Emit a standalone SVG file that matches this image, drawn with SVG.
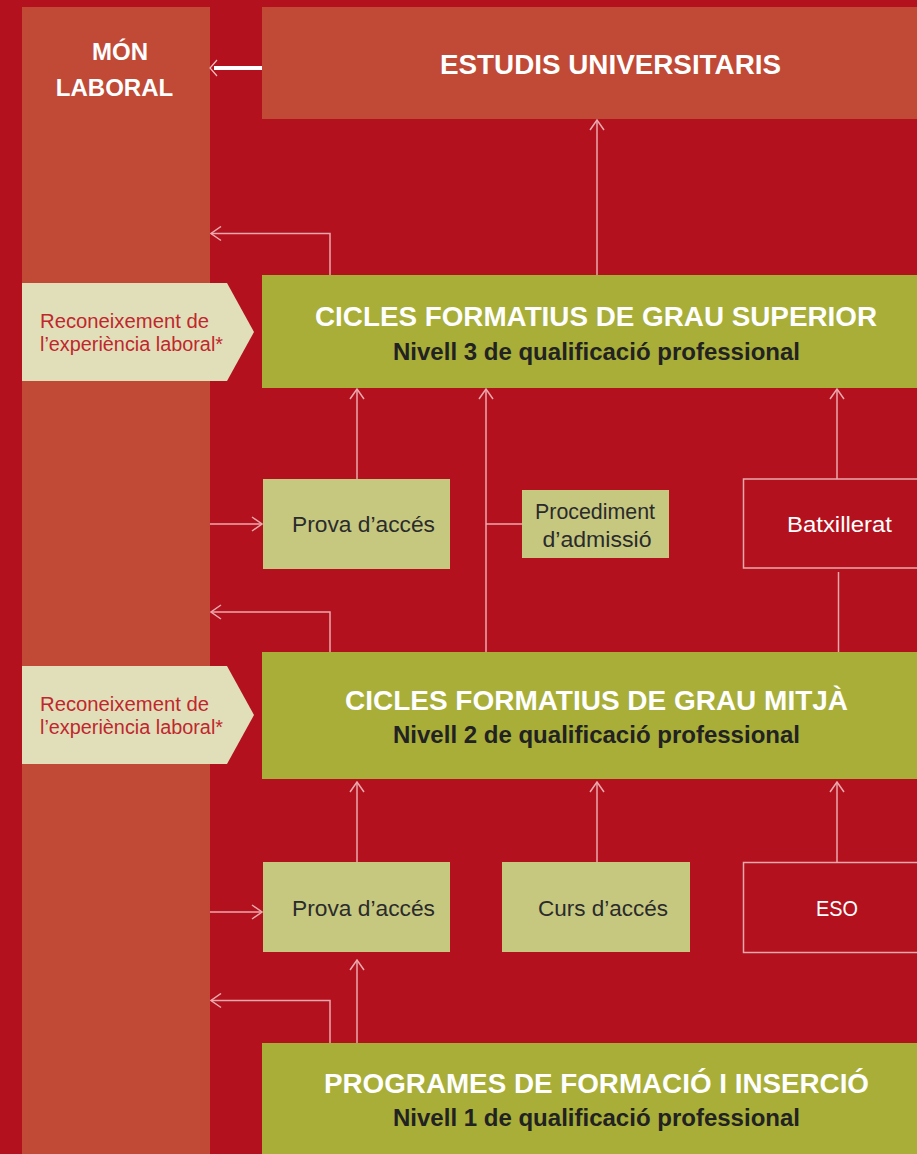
<svg xmlns="http://www.w3.org/2000/svg" width="917" height="1154" viewBox="0 0 917 1154">
<defs>
<marker id="ah" viewBox="0 0 12 16" refX="11" refY="8" markerWidth="12" markerHeight="16" markerUnits="userSpaceOnUse" orient="auto">
<path d="M1,1 L11,8 L1,15" fill="none" stroke="#eaa9ad" stroke-width="1.5"/>
</marker>
</defs>
<style>
.big{fill:#c04a36}
.lvl{fill:#a8ae38}
.acc{fill:#c6c880}
.out{fill:none;stroke:#eaa9ad;stroke-width:1.5}
.rec{fill:#e0dfba}
.t1{font-family:"Liberation Sans",Arial,sans-serif;font-weight:bold;fill:#ffffff;text-anchor:middle}
.t2{font-family:"Liberation Sans",Arial,sans-serif;font-weight:bold;fill:#222222;font-size:23px;text-anchor:middle}
.t3{font-family:"Liberation Sans",Arial,sans-serif;fill:#2b2b2b;font-size:22.5px;text-anchor:middle}
.t4{font-family:"Liberation Sans",Arial,sans-serif;fill:#ffffff;font-size:22.5px;text-anchor:middle}
.tr{font-family:"Liberation Sans",Arial,sans-serif;fill:#c0272d;font-size:19.5px}
.c{fill:none;stroke:#eaa9ad;stroke-width:1.5}
</style>
<rect x="0" y="0" width="917" height="1154" fill="#b3111d"/>

<g id="mon-laboral">
<rect class="big" x="22" y="7" width="188" height="1147"/>
<text class="t1" x="120" y="60" font-size="24">MÓN</text>
<text class="t1" x="114.5" y="96" font-size="24">LABORAL</text>
</g>

<g id="estudis">
<rect class="big" x="262" y="7" width="655" height="112"/>
<text class="t1" x="610.5" y="74" font-size="27" textLength="341" lengthAdjust="spacingAndGlyphs">ESTUDIS UNIVERSITARIS</text>
</g>

<g id="cfgs">
<rect class="lvl" x="262" y="275" width="655" height="113"/>
<text class="t1" x="596" y="326" font-size="27" textLength="562" lengthAdjust="spacingAndGlyphs">CICLES FORMATIUS DE GRAU SUPERIOR</text>
<text class="t2" x="596.5" y="360" textLength="407" lengthAdjust="spacingAndGlyphs">Nivell 3 de qualificació professional</text>
</g>

<g id="rec1">
<polygon class="rec" points="22,283 227,283 254,332 227,381 22,381"/>
<text class="tr" x="40" y="328" textLength="169" lengthAdjust="spacingAndGlyphs">Reconeixement de</text>
<text class="tr" x="40" y="351" textLength="183" lengthAdjust="spacingAndGlyphs">l’experiència laboral*</text>
</g>

<g id="prova1">
<rect class="acc" x="263" y="479" width="187" height="90"/>
<text class="t3" x="363.5" y="532" textLength="143" lengthAdjust="spacingAndGlyphs">Prova d’accés</text>
</g>

<g id="procediment">
<rect class="acc" x="522" y="490" width="147" height="68"/>
<text class="t3" x="595" y="519" textLength="120" lengthAdjust="spacingAndGlyphs">Procediment</text>
<text class="t3" x="597" y="547" textLength="109" lengthAdjust="spacingAndGlyphs">d’admissió</text>
</g>

<g id="batxillerat">
<rect class="out" x="743.5" y="479" width="180" height="89"/>
<text class="t4" x="839.5" y="532" textLength="105" lengthAdjust="spacingAndGlyphs">Batxillerat</text>
</g>

<g id="cfgm">
<rect class="lvl" x="262" y="652" width="655" height="127"/>
<text class="t1" x="596.5" y="710" font-size="27" textLength="503" lengthAdjust="spacingAndGlyphs">CICLES FORMATIUS DE GRAU MITJÀ</text>
<text class="t2" x="596.5" y="743" textLength="407" lengthAdjust="spacingAndGlyphs">Nivell 2 de qualificació professional</text>
</g>

<g id="rec2">
<polygon class="rec" points="22,666 227,666 254,715 227,764 22,764"/>
<text class="tr" x="40" y="711" textLength="169" lengthAdjust="spacingAndGlyphs">Reconeixement de</text>
<text class="tr" x="40" y="734" textLength="183" lengthAdjust="spacingAndGlyphs">l’experiència laboral*</text>
</g>

<g id="prova2">
<rect class="acc" x="263" y="862" width="187" height="90"/>
<text class="t3" x="363.5" y="916" textLength="143" lengthAdjust="spacingAndGlyphs">Prova d’accés</text>
</g>

<g id="curs">
<rect class="acc" x="502" y="862" width="188" height="90"/>
<text class="t3" x="603" y="916" textLength="130" lengthAdjust="spacingAndGlyphs">Curs d’accés</text>
</g>

<g id="eso">
<rect class="out" x="743.5" y="862.5" width="180" height="90"/>
<text class="t4" x="837" y="916" textLength="42" lengthAdjust="spacingAndGlyphs">ESO</text>
</g>

<g id="pfi">
<rect class="lvl" x="262" y="1043" width="655" height="111"/>
<text class="t1" x="596.5" y="1093" font-size="27" textLength="545" lengthAdjust="spacingAndGlyphs">PROGRAMES DE FORMACIÓ I INSERCIÓ</text>
<text class="t2" x="596.5" y="1126" textLength="407" lengthAdjust="spacingAndGlyphs">Nivell 1 de qualificació professional</text>
</g>

<g id="connectors">
<line x1="262" y1="68" x2="214" y2="68" stroke="#ffffff" stroke-width="4"/>
<path d="M217,60 L210,68 L217,76" fill="none" stroke="#f0c0c0" stroke-width="1.2"/>
<path class="c" d="M330,275 V233.5 H211" marker-end="url(#ah)"/>
<path class="c" d="M597,275 V120" marker-end="url(#ah)"/>
<path class="c" d="M357,479 V389" marker-end="url(#ah)"/>
<path class="c" d="M486,652 V389" marker-end="url(#ah)"/>
<path class="c" d="M486,524 H522"/>
<path class="c" d="M837,479 V389" marker-end="url(#ah)"/>
<path class="c" d="M838.5,652 V572"/>
<path class="c" d="M210,524 H262" marker-end="url(#ah)"/>
<path class="c" d="M330,652 V612 H211" marker-end="url(#ah)"/>
<path class="c" d="M357,862 V782" marker-end="url(#ah)"/>
<path class="c" d="M597,862 V782" marker-end="url(#ah)"/>
<path class="c" d="M837,862 V782" marker-end="url(#ah)"/>
<path class="c" d="M210,912 H262" marker-end="url(#ah)"/>
<path class="c" d="M357,1043 V960" marker-end="url(#ah)"/>
<path class="c" d="M330,1043 V1000.5 H211" marker-end="url(#ah)"/>
</g>
</svg>
